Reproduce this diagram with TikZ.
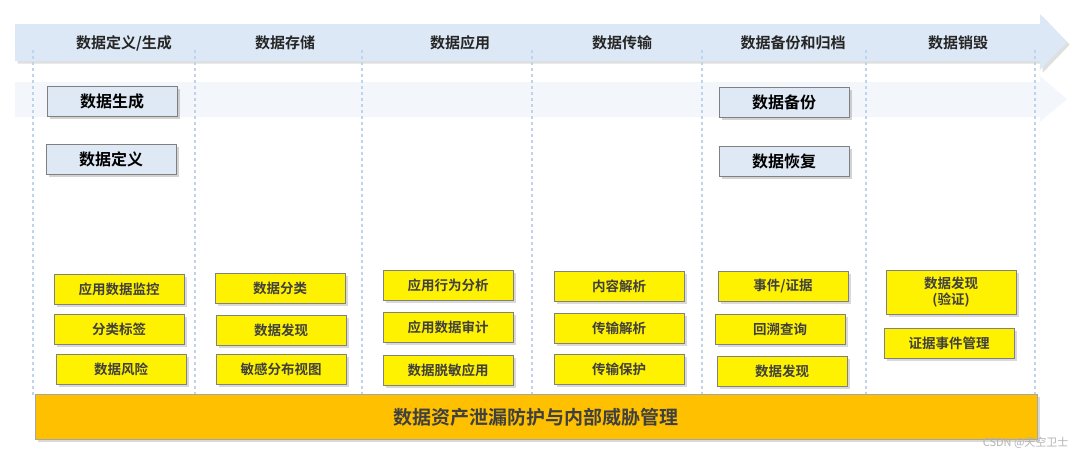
\documentclass[tikz,border=0pt]{standalone}
\usepackage{fontspec}
\setmainfont{Noto Sans CJK SC}[BoldFont={* Bold}]
\usetikzlibrary{shadows}
\definecolor{bandblue}{RGB}{220,232,245}
\definecolor{boxblue}{RGB}{222,233,245}
\definecolor{lineblue}{RGB}{190,212,235}
\definecolor{barorange}{RGB}{255,192,0}
\definecolor{txtgray}{RGB}{64,64,64}
\begin{document}
\begin{tikzpicture}[
      x=1pt, y=-1pt,
      font=\bfseries,
      stage/.style={font=\fontsize{15}{17}\selectfont\bfseries, text=black!85},
      phase/.style={draw=gray, fill=boxblue, minimum width=130pt, minimum height=30pt,
        font=\fontsize{16}{18}\selectfont\bfseries, drop shadow={opacity=0.35}},
      task/.style={draw=gray, fill=yellow, minimum width=130pt, minimum height=30pt,
        font=\fontsize{13.5}{16}\selectfont\bfseries, text=txtgray, align=center,
        drop shadow={opacity=0.3}}
    ]
      \useasboundingbox (0,0) rectangle (1080,461);

      % Process arrows (top band and faded copy)
      \fill[bandblue, drop shadow={opacity=0.25}]
        (15,24) -- (1040,24) -- (1040,14) -- (1067,42) -- (1040,70) -- (1040,61) -- (15,61) -- cycle;
      \fill[bandblue!35]
        (15,82) -- (1040,82) -- (1040,76) -- (1067,99) -- (1040,122) -- (1040,117) -- (15,117) -- cycle;

      % Column separators
      \foreach \cx in {33,195,362,532,702,866,1035}
        \draw[lineblue, dashed, line width=1.2pt] (\cx,50) -- (\cx,395);

      % Stage headers
      \node[stage] (h1) at (124,43) {数据定义/生成};
      \node[stage] (h2) at (285,43) {数据存储};
      \node[stage] (h3) at (460,43) {数据应用};
      \node[stage] (h4) at (622,43) {数据传输};
      \node[stage] (h5) at (793,43) {数据备份和归档};
      \node[stage] (h6) at (958,43) {数据销毁};

      % Phase boxes
      \node[phase] (gen) at (112,101) {数据生成};
      \node[phase] (def) at (111,159) {数据定义};
      \node[phase] (bak) at (784,102) {数据备份};
      \node[phase] (rec) at (784,161) {数据恢复};

      % Capability boxes
      \node[task] (a1) at (119,289) {应用数据监控};
      \node[task] (a2) at (119,329) {分类标签};
      \node[task] (a3) at (121,369) {数据风险};
      \node[task] (b1) at (280,288) {数据分类};
      \node[task] (b2) at (281,330) {数据发现};
      \node[task] (b3) at (281,369) {敏感分布视图};
      \node[task] (c1) at (448,285) {应用行为分析};
      \node[task] (c2) at (448,327) {应用数据审计};
      \node[task] (c3) at (448,370) {数据脱敏应用};
      \node[task] (d1) at (619,286) {内容解析};
      \node[task] (d2) at (619,328) {传输解析};
      \node[task] (d3) at (619,369) {传输保护};
      \node[task] (e1) at (783,286) {事件/证据};
      \node[task] (e2) at (780,329) {回溯查询};
      \node[task] (e3) at (782,371) {数据发现};
      \node[task, minimum height=44pt, text width=118pt] (f1) at (951,292) {数据发现\\(验证)};
      \node[task] (f2) at (949,343) {证据事件管理};

      % Base bar
      \node[fill=barorange, draw=gray!70, minimum width=1002pt, minimum height=45pt,
        font=\fontsize{19}{21}\selectfont\bfseries, text=txtgray, drop shadow={opacity=0.3}]
        (base) at (536,417) {数据资产泄漏防护与内部威胁管理};

      \node[text=gray!60, font=\fontsize{11}{13}\selectfont, anchor=east] (wm) at (1072,443) {CSDN @天空卫士};
\end{tikzpicture}
\end{document}
